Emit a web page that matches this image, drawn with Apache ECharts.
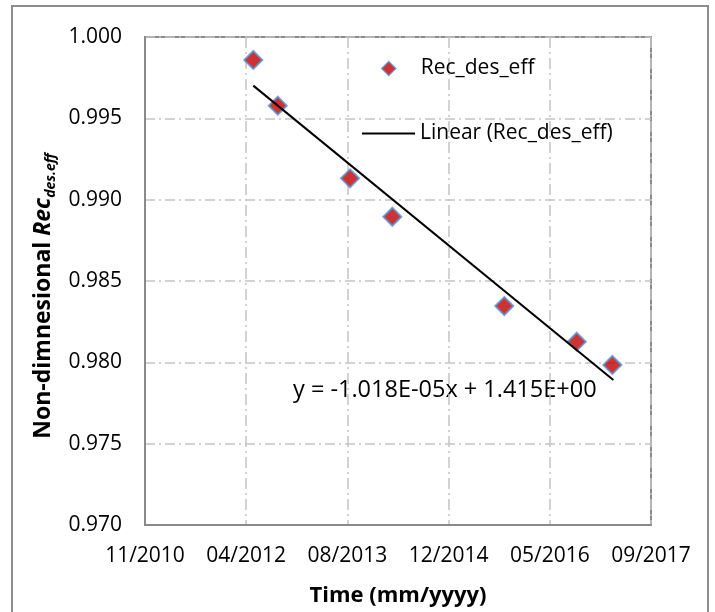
<!DOCTYPE html>
<html>
<head>
    <meta charset="UTF-8">
    <title>Rec_des_eff trend</title>
    <script src="https://cdn.jsdelivr.net/npm/echarts@6/dist/echarts.min.js"></script>
</head>
<body style="margin:0;background:#fff;">
    <div id="trendBox" style="width:715px;height:612px;"></div>

    <script>
        // x values are Excel date serials (days)
        var dayValues = [41035, 41156, 41513, 41722, 42275, 42633, 42809];
        var recValues = [0.99859, 0.99578, 0.99131, 0.98895, 0.98346, 0.98127, 0.97984];

        // end points of the linear trendline as drawn
        var trendDays = [41035, 42814];
        var trendValues = [0.99701, 0.97891];

        // ticks every 500 days from serial 40500
        var xTickLabels = ['11/2010', '04/2012', '08/2013', '12/2014', '05/2016', '09/2017'];
        var xStart = 40500;
        var xStep = 500;

        var fontName = 'Open Sans';

        var myChart = echarts.init(document.getElementById('trendBox'));

        var option = {
            backgroundColor: '#ffffff',
            animation: false,
            textStyle: { fontFamily: fontName, color: '#000' },
            grid: {
                left: 145,
                right: 64,
                top: 37,
                bottom: 87,
                show: true,
                borderColor: '#8a8a8a',
                borderWidth: 2
            },
            legend: [{
                data: ['Rec_des_eff'],
                left: 376,
                top: 53,
                itemWidth: 14,
                itemHeight: 14,
                itemStyle: { borderColor: '#5b8fd0', borderWidth: 1.5 },
                textStyle: { fontFamily: fontName, fontSize: 21, color: '#000', padding: [0, 0, 0, 20] }
            }, {
                data: [{ name: 'Linear (Rec_des_eff)', icon: 'rect' }],
                left: 357,
                top: 118,
                itemWidth: 53,
                itemHeight: 2,
                lineStyle: { color: '#000', width: 2 },
                textStyle: { fontFamily: fontName, fontSize: 21, color: '#000' }
            }],
            xAxis: {
                type: 'value',
                min: 40500,
                max: 43000,
                interval: 500,
                name: 'Time (mm/yyyy)',
                nameLocation: 'middle',
                nameGap: 60,
                nameTextStyle: { fontFamily: fontName, fontSize: 22, fontWeight: 'bold', color: '#000' },
                axisLine: { show: true, lineStyle: { color: '#8a8a8a', width: 2 } },
                axisTick: { show: false },
                axisLabel: {
                    margin: 21,
                    fontFamily: fontName,
                    fontSize: 21,
                    color: '#000',
                    formatter: function (v) {
                        var i = Math.round((v - xStart) / xStep);
                        return xTickLabels[i] || '';
                    }
                },
                splitLine: {
                    show: true,
                    lineStyle: { color: '#c4c4c4', width: 1.5, type: [11, 4, 2, 4] }
                }
            },
            yAxis: {
                type: 'value',
                min: 0.970,
                max: 1.000,
                interval: 0.005,
                name: '{a|Non-dimnesional }{b|Rec}{c|des.eff}',
                nameLocation: 'middle',
                nameRotate: 90,
                nameGap: 75,
                nameTextStyle: {
                    rich: {
                        a: { fontFamily: fontName, fontSize: 23, fontWeight: 'bold', color: '#000', lineHeight: 26, verticalAlign: 'top' },
                        b: { fontFamily: fontName, fontSize: 23, fontWeight: 'bold', fontStyle: 'italic', color: '#000', lineHeight: 26, verticalAlign: 'top' },
                        c: { fontFamily: fontName, fontSize: 14, fontWeight: 'bold', fontStyle: 'italic', color: '#000', lineHeight: 16, padding: [12, 30, 0, 0], verticalAlign: 'bottom' }
                    }
                },
                axisLine: { show: true, lineStyle: { color: '#8a8a8a', width: 2 } },
                axisTick: { show: false },
                axisLabel: {
                    margin: 23,
                    fontFamily: fontName,
                    fontSize: 21,
                    color: '#000',
                    formatter: function (v) { return v.toFixed(3); }
                },
                splitLine: {
                    show: true,
                    lineStyle: { color: '#c4c4c4', width: 1.5, type: [10, 4, 2, 4] }
                }
            },
            series: [{
                name: 'Rec_des_eff',
                type: 'scatter',
                symbol: 'diamond',
                symbolSize: 18,
                z: 2,
                itemStyle: { color: '#c00000', borderColor: '#5b8fd0', borderWidth: 2 },
                data: dayValues.map(function (d, i) { return [d, recValues[i]]; })
            }, {
                name: 'Linear (Rec_des_eff)',
                type: 'line',
                symbol: 'none',
                z: 3,
                lineStyle: { color: '#000', width: 2 },
                itemStyle: { color: '#000' },
                data: trendDays.map(function (d, i) { return [d, trendValues[i]]; })
            }],
            graphic: [{
                type: 'rect',
                z: -10,
                shape: { x: 12, y: 6, width: 696, height: 640 },
                style: { fill: 'none', stroke: '#8c8c8c', lineWidth: 2 }
            }, {
                type: 'text',
                left: 293,
                top: 378,
                style: {
                    text: 'y = -1.018E-05x + 1.415E+00',
                    fontFamily: fontName,
                    fontSize: 23.5,
                    fill: '#000'
                }
            }]
        };

        myChart.setOption(option);
    </script>
</body>
</html>
